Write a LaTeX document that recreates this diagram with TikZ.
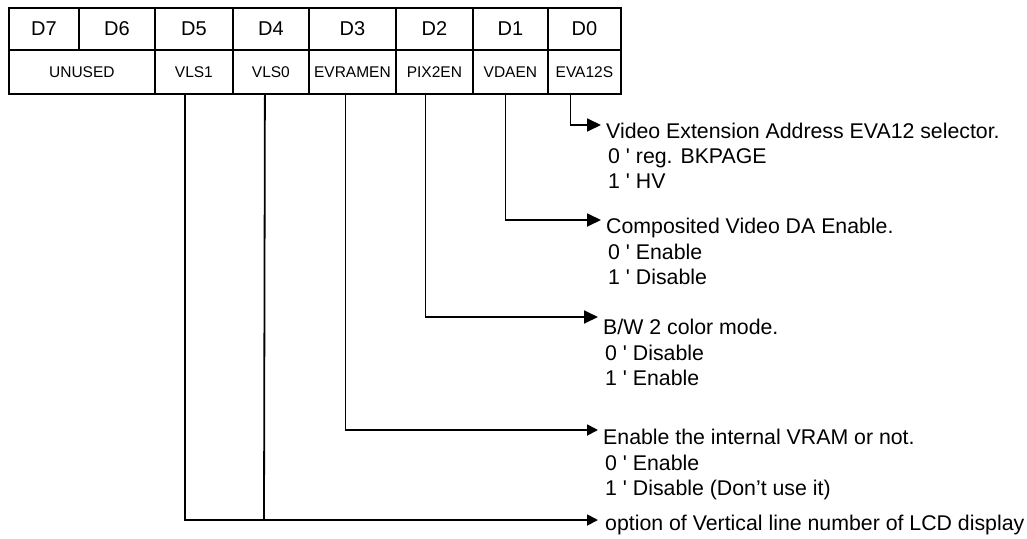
\documentclass[tikz,border=0pt]{standalone}
\usepackage{fontspec}
\setmainfont{Liberation Sans}
\usetikzlibrary{arrows.meta,calc}
\begin{document}
\begin{tikzpicture}[x=1pt,y=-1pt,
  cell/.style={draw,line width=1.8pt,inner sep=0pt,anchor=north west,font=\fontsize{20}{24}\selectfont},
  toprow/.style={cell,minimum height=42pt},
  botrow/.style={cell,minimum height=44pt,font=\fontsize{15.5}{18}\selectfont},
  desc/.style={anchor=base west,inner sep=0pt,font=\fontsize{21.3}{26}\selectfont},
  wire/.style={line width=1.8pt},
  bigarr/.style={wire,-{Triangle[length=14pt,width=13pt]}},
  smallarr/.style={wire,-{Triangle[length=11pt,width=11pt]}}]
\useasboundingbox (0,0) rectangle (1027,538);
% top row
\node[toprow,minimum width=70pt] (d7) at (8,7) {D7};
\node[toprow,minimum width=76pt] (d6) at (78,7) {D6};
\node[toprow,minimum width=78pt] (d5) at (154,7) {D5};
\node[toprow,minimum width=76pt] (d4) at (232,7) {D4};
\node[toprow,minimum width=87pt] (d3) at (308,7) {D3};
\node[toprow,minimum width=77pt] (d2) at (395,7) {D2};
\node[toprow,minimum width=75pt] (d1) at (472,7) {D1};
\node[toprow,minimum width=73pt] (d0) at (547,7) {D0};
% bottom row
\node[botrow,minimum width=146pt] (unused) at (8,49) {UNUSED};
\node[botrow,minimum width=78pt] (vls1) at (154,49) {VLS1};
\node[botrow,minimum width=76pt] (vls0) at (232,49) {VLS0};
\node[botrow,minimum width=87pt] (evramen) at (308,49) {EVRAMEN};
\node[botrow,minimum width=77pt] (pix2en) at (395,49) {PIX2EN};
\node[botrow,minimum width=75pt] (vdaen) at (472,49) {VDAEN};
\node[botrow,minimum width=73pt] (eva12s) at (547,49) {EVA12S};
% descriptions
\node[desc] (t0a) at (606,138) {Video Extension Address EVA12 selector.};
\node[desc] (t0b) at (608,163) {0 \textquotesingle\ reg. BKPAGE};
\node[desc] (t0c) at (608,188) {1 \textquotesingle\ HV};
\node[desc] (t1a) at (606,233) {Composited Video DA Enable.};
\node[desc] (t1b) at (608,259) {0 \textquotesingle\ Enable};
\node[desc] (t1c) at (608,284) {1 \textquotesingle\ Disable};
\node[desc] (t2a) at (603,334) {B/W 2 color mode.};
\node[desc] (t2b) at (605,360) {0 \textquotesingle\ Disable};
\node[desc] (t2c) at (605,385) {1 \textquotesingle\ Enable};
\node[desc] (t3a) at (603,444) {Enable the internal VRAM or not.};
\node[desc] (t3b) at (605,470) {0 \textquotesingle\ Enable};
\node[desc] (t3c) at (605,495) {1 \textquotesingle\ Disable (Don’t use it)};
\node[desc] (t4a) at (605,530) {option of Vertical line number of LCD display};
% arrow ends
\coordinate (e0) at (601,125);
\coordinate (e1) at (601,220);
\coordinate (e2) at (598,317);
\coordinate (e3) at (598,430);
\coordinate (e4) at (598,520);
\coordinate (j) at (264,520);
% connectors
\draw[bigarr] ([xshift=-14pt]eva12s.south) |- (e0);
\draw[bigarr] ([xshift=-5pt]vdaen.south) |- (e1);
\draw[bigarr] ([xshift=-9pt]pix2en.south) |- (e2);
\draw[smallarr] ([xshift=-7pt]evramen.south) |- (e3);
\draw[smallarr] ([xshift=-9pt]vls1.south) |- (e4);
\draw[wire] ([xshift=-6pt]vls0.south) -- (j);
\end{tikzpicture}
\end{document}
